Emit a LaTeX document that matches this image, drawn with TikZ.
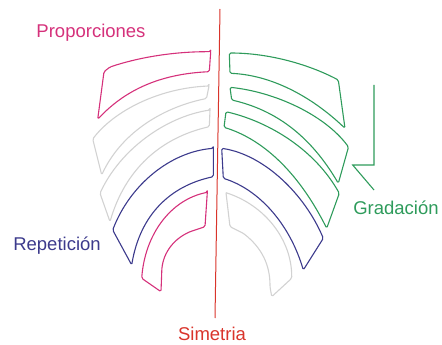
\documentclass[tikz,border=0pt]{standalone}
\usepackage{fontspec}
\setmainfont{Liberation Sans}
\usepackage{tikz}
\usetikzlibrary{positioning}
\definecolor{propink}{HTML}{D5317B}
\definecolor{repblue}{HTML}{3C3A8C}
\definecolor{gradgreen}{HTML}{2E9B5B}
\definecolor{simred}{HTML}{D9342B}
\definecolor{restgrey}{HTML}{D2D2D2}

\begin{document}
\begin{tikzpicture}[
  x=1pt,y=-1pt,
  font=\fontsize{18.5}{20}\selectfont,
  rib/.style={line width=1.1pt,line join=round,rounded corners=1.5pt},
  lbl/.style={inner sep=0pt,anchor=center}
]
\useasboundingbox (0,0) rectangle (442,345);

\draw[simred,line width=1pt] (220,9) -- (215,318);

\draw[rib,propink] (210.7,51.7) -- (209.3,71.7)
  .. controls (160,74) and (125,90) .. (97.7,119.3)
  -- (104,71.7) -- (110,67)
  .. controls (140,57) and (175,51.5) .. (210.7,51.7) -- cycle;
\draw[rib,restgrey] (209,86) -- (206.5,98.5)
  .. controls (160,108) and (120,135) .. (101.7,175)
  -- (92.7,139)
  .. controls (115,110) and (160,88) .. (209,86) -- cycle;
\draw[rib,restgrey] (210,110) -- (209.3,126.7)
  .. controls (160,138) and (125,170) .. (110,221.7)
  -- (100,193.3)
  .. controls (120,150) and (165,117) .. (210,110) -- cycle;
\draw[rib,repblue] (213.3,148.3) -- (213.3,176.7)
  .. controls (170,186) and (140,215) .. (131.7,265)
  -- (112.7,230)
  .. controls (130,185) and (170,152) .. (213.3,148.3) -- cycle;
\draw[rib,propink] (207.3,192.3) -- (205,226.7) -- (190,231.7)
  .. controls (172,240) and (162,255) .. (161.7,273.3)
  -- (161,291.7) -- (141.7,278.3)
  .. controls (145,235) and (170,200) .. (207.3,192.3) -- cycle;

\draw[rib,gradgreen] (229.3,53) .. controls (270,53) and (310,65) .. (338.3,80)
  -- (345,128.3)
  .. controls (310,95) and (270,75) .. (230,73.3) -- cycle;
\draw[rib,gradgreen] (230,87.3) .. controls (275,92) and (325,115) .. (348.5,147)
  -- (338.3,183.3)
  .. controls (310,135) and (275,110) .. (231.7,100) -- cycle;
\draw[rib,gradgreen] (226,111.7) .. controls (270,122) and (315,150) .. (339.3,193.3)
  -- (326.7,228.3)
  .. controls (300,175) and (265,140) .. (224,127.3) -- cycle;
\draw[rib,repblue] (221.7,148.3) .. controls (265,155) and (305,195) .. (323.3,238.3)
  -- (303.3,270)
  .. controls (290,225) and (260,190) .. (223.3,178.3) -- cycle;
\draw[rib,restgrey] (226,192.7) -- (230,226.7) -- (243.3,233.3)
  .. controls (262,248) and (270,265) .. (270,286.7)
  -- (271.7,296.7) -- (291.7,278.3)
  .. controls (292,240) and (265,205) .. (226,192.7);

\draw[gradgreen,line width=1.1pt] (374,85) -- (374,165) -- (352.7,165) -- (374,190);

\node[lbl,propink] (proporciones) at (91,33) {Proporciones};
\node[lbl,repblue] (repeticion) at (57,246) {Repetición};
\node[lbl,gradgreen] (gradacion) at (396,208) {Gradación};
\node[lbl,simred] (simetria) at (212,334) {Simetria};
\end{tikzpicture}
\end{document}
